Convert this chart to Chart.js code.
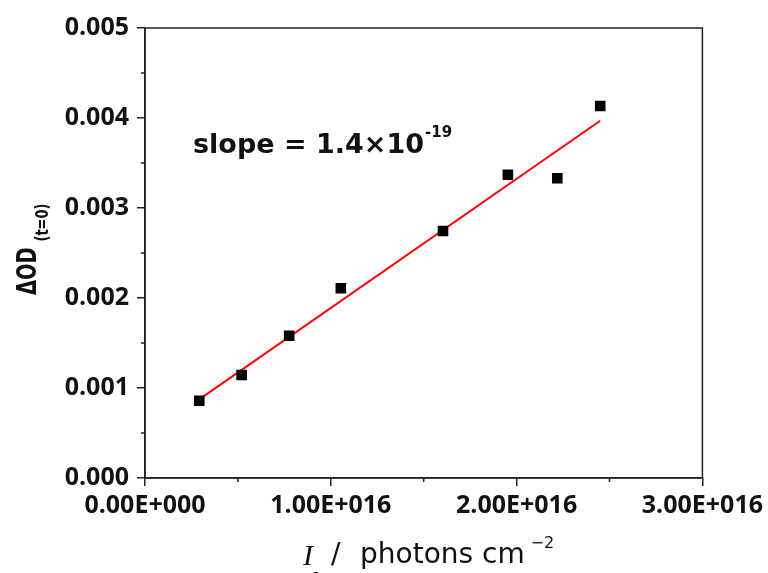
<!DOCTYPE html>
<html>
<head>
<meta charset="utf-8">
<script src="https://cdn.jsdelivr.net/npm/chart.js@4.4.1/dist/chart.umd.min.js"></script>
<style>
  html, body { margin: 0; padding: 0; background: #fff; }
  #wrap { width: 768px; height: 573px; }
</style>
</head>
<body>
<div id="wrap"><canvas id="odChart" width="768" height="573"></canvas></div>
<script>
// photon dose (photons cm^-2) and ΔOD at t=0
const intensity = [0.292e16, 0.520e16, 0.776e16, 1.054e16, 1.604e16, 1.953e16, 2.219e16, 2.450e16];
const deltaOD = [0.000859, 0.001144, 0.001581, 0.002108, 0.002744, 0.003370, 0.003330, 0.004133];

// end points of the red linear fit
const fitX = [0.292e16, 2.450e16];
const fitY = [0.000874, 0.00397];

const xMinorTicks = [0.5e16, 1.5e16, 2.5e16];
const yMinorTicks = [0.0005, 0.0015, 0.0025, 0.0035, 0.0045];

const slopeText = 'slope = 1.4\u00d710';
const slopeExp = '-19';

const tickFont = { family: 'Open Sans', size: 25, weight: 'bold' };

function sciLabel(v) {
    if (v === 0) return '0.00E+000';
    const exp = Math.floor(Math.log10(Math.abs(v)) + 1e-9);
    const mant = v / Math.pow(10, exp);
    return mant.toFixed(2) + 'E+' + String(exp).padStart(3, '0');
}

const framePlugin = {
    id: 'frame',
    afterDraw(chart) {
        const ctx = chart.ctx;
        const a = chart.chartArea;
        const xs = chart.scales.x, ys = chart.scales.y;
        ctx.save();
        ctx.strokeStyle = '#222';
        ctx.lineWidth = 1.5;
        ctx.strokeRect(a.left, a.top, a.right - a.left, a.bottom - a.top);

        // minor ticks, pointing out
        ctx.beginPath();
        xMinorTicks.forEach(v => {
            const px = xs.getPixelForValue(v);
            ctx.moveTo(px, a.bottom);
            ctx.lineTo(px, a.bottom + 4);
        });
        yMinorTicks.forEach(v => {
            const py = ys.getPixelForValue(v);
            ctx.moveTo(a.left, py);
            ctx.lineTo(a.left - 4, py);
        });
        ctx.stroke();

        ctx.fillStyle = '#111';
        ctx.textBaseline = 'alphabetic';
        ctx.textAlign = 'left';

        // slope annotation
        ctx.font = 'bold 27px "DejaVu Sans"';
        ctx.fillText(slopeText, 193, 153);
        const sw = ctx.measureText(slopeText).width;
        ctx.font = 'bold 15px "DejaVu Sans"';
        ctx.fillText(slopeExp, 193 + sw + 1, 137);

        // y axis title, rotated, with subscript
        ctx.save();
        ctx.translate(36, 295);
        ctx.rotate(-Math.PI / 2);
        ctx.scale(0.72, 1);
        ctx.font = 'bold 27px "DejaVu Sans"';
        ctx.fillText('\u0394OD', 0, 0);
        const tw = ctx.measureText('\u0394OD').width;
        ctx.font = 'bold 18px "DejaVu Sans"';
        ctx.fillText('(t=0)', tw + 8, 12);
        ctx.restore();

        // x axis title
        ctx.font = 'italic 30px "Liberation Serif"';
        ctx.fillText('I', 303, 565);
        ctx.font = '17px "DejaVu Sans"';
        ctx.fillText('a', 311, 582);
        ctx.font = '28px "DejaVu Sans"';
        ctx.fillText('/', 331, 563);
        ctx.fillText('photons cm', 360, 563);
        const pw = ctx.measureText('photons cm').width;
        ctx.font = '16px "DejaVu Sans"';
        ctx.fillText('\u22122', 360 + pw + 6, 548);
        ctx.restore();
    }
};

new Chart(document.getElementById('odChart').getContext('2d'), {
    type: 'scatter',
    data: {
        datasets: [
            {
                label: 'fit',
                data: fitX.map((x, i) => ({ x: x, y: fitY[i] })),
                showLine: true,
                borderColor: '#ff0000',
                borderWidth: 2,
                pointRadius: 0,
                order: 1
            },
            {
                label: 'data',
                data: intensity.map((x, i) => ({ x: x, y: deltaOD[i] })),
                pointStyle: 'rect',
                pointRadius: 7.5,
                backgroundColor: '#000',
                borderColor: '#000',
                borderWidth: 0,
                order: 0
            }
        ]
    },
    options: {
        responsive: false,
        animation: false,
        layout: { padding: { top: 28, right: 64, left: 0, bottom: 0 } },
        plugins: {
            legend: { display: false },
            tooltip: { enabled: false }
        },
        scales: {
            x: {
                type: 'linear',
                min: 0,
                max: 3e16,
                afterFit: function(scale) { scale.height = 95; },
                ticks: {
                    stepSize: 1e16,
                    color: '#111',
                    font: tickFont,
                    padding: 5,
                    maxRotation: 0,
                    callback: function(v) { return sciLabel(v); }
                },
                grid: { drawOnChartArea: false, drawTicks: true, tickLength: 8, color: '#222', lineWidth: 1.5 },
                border: { display: true, color: '#222', width: 1.5 }
            },
            y: {
                type: 'linear',
                min: 0,
                max: 0.005,
                afterFit: function(scale) { scale.width = 145; },
                ticks: {
                    stepSize: 0.001,
                    color: '#111',
                    font: tickFont,
                    padding: 8,
                    callback: function(v) { return v.toFixed(3); }
                },
                grid: { drawOnChartArea: false, drawTicks: true, tickLength: 8, color: '#222', lineWidth: 1.5 },
                border: { display: true, color: '#222', width: 1.5 }
            }
        }
    },
    plugins: [framePlugin]
});
</script>
</body>
</html>
